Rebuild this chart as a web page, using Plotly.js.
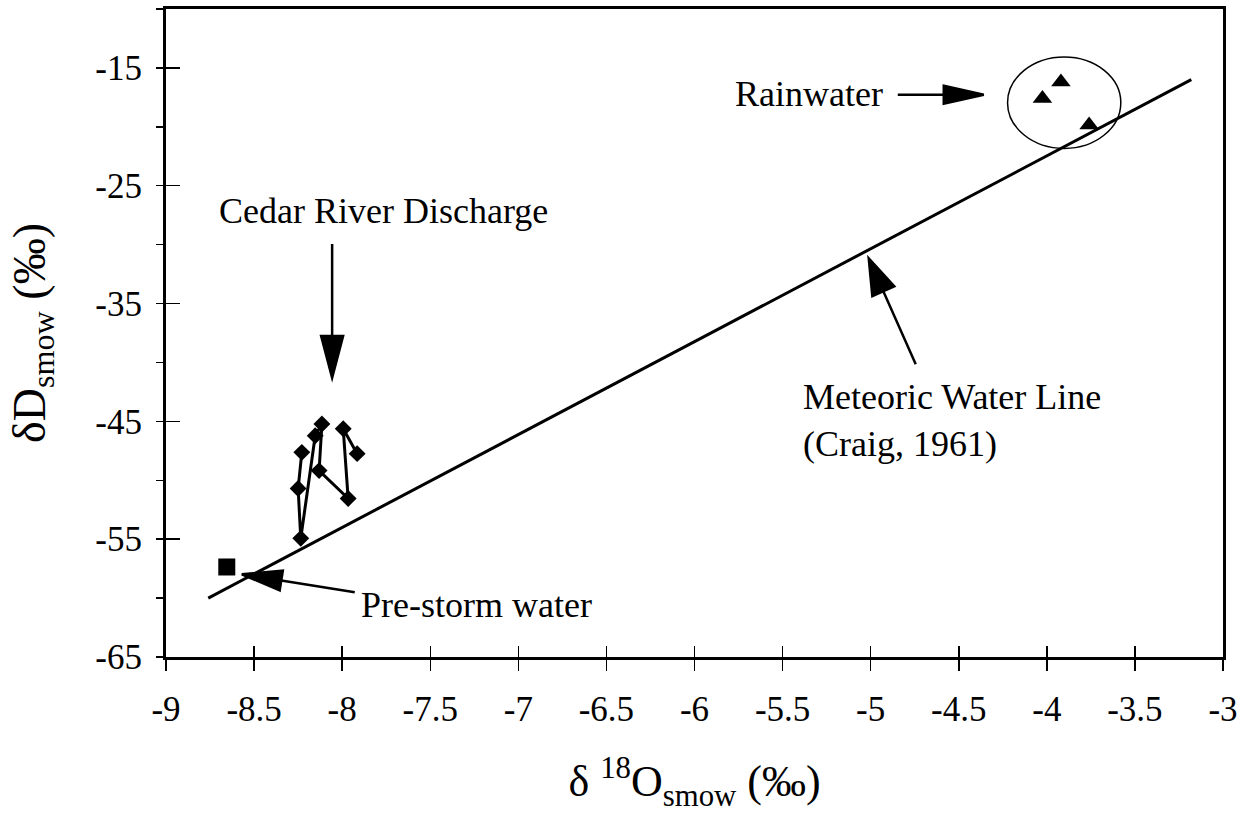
<!DOCTYPE html>
<html>
<head>
<meta charset="utf-8">
<script src="https://cdn.plot.ly/plotly-3.0.1.min.js"></script>
<style>html,body{margin:0;padding:0;background:#fff;}#chart{width:1248px;height:817px;}</style>
</head>
<body>
<div id="chart"></div>
<script>
// Cedar River discharge samples (δ18O, δD)
const dischargeO = [-8.229, -8.250, -8.235, -8.153, -8.115, -8.131, -7.966, -7.994, -7.915];
const dischargeD = [-47.63, -50.70, -54.93, -46.22, -45.23, -49.18, -51.55, -45.63, -47.74];
// Pre-storm water
const prestormO = [-8.655];
const prestormD = [-57.36];
// Rainwater
const rainO = [-4.025, -3.920, -3.760];
const rainD = [-17.6, -16.2, -19.85];
// Meteoric water line end points (Craig, 1961)
const mwlO = [-8.76, -3.18];
const mwlD = [-60.0, -16.0];
// Tick labels
const xTickVals = [-9, -8.5, -8, -7.5, -7, -6.5, -6, -5.5, -5, -4.5, -4, -3.5, -3];
const xTickText = ['-9', '-8.5', '-8', '-7.5', '-7', '-6.5', '-6', '-5.5', '-5', '-4.5', '-4', '-3.5', '-3'];
const yTickVals = [-65, -55, -45, -35, -25, -15];
const yTickText = ['-65', '-55', '-45', '-35', '-25', '-15'];
const yMinorVals = [-60, -50, -40, -30, -20, -10];

const FONT = 'Liberation Serif, Times New Roman, serif';
const xRange = [-9, -3];
const yRange = [-65, -10];

const traces = [
  {x: mwlO, y: mwlD, mode: 'lines', line: {color: '#000', width: 3}, hoverinfo: 'skip', showlegend: false},
  {x: dischargeO, y: dischargeD, mode: 'lines+markers', line: {color: '#000', width: 3},
   marker: {symbol: 'diamond', size: 13, color: '#000'}, showlegend: false},
  {x: prestormO, y: prestormD, mode: 'markers', marker: {symbol: 'square', size: 17, color: '#000'}, showlegend: false},
  {x: rainO, y: rainD, mode: 'markers', marker: {symbol: 'triangle-up', size: 17, color: '#000'}, showlegend: false},
  {x: [xRange[0]], y: [yRange[0]], xaxis: 'x2', yaxis: 'y2', mode: 'markers', marker: {opacity: 0}, showlegend: false, hoverinfo: 'skip'}
];

// arrow: head at data point, tail offset in screen pixels (dx right, dy down)
function arrow(hx, hy, dx, dy, len, hw) {
  const n = Math.hypot(dx, dy);
  const ux = -dx / n, uy = dy / n;          // direction tail->head, y up
  const bx = -ux * len, by = -uy * len;     // base centre
  const px = -uy * hw, py = ux * hw;
  const f = v => v.toFixed(2);
  const path = `M${f(dx)},${f(-dy)} L${f(bx)},${f(by)} M${f(bx + px)},${f(by + py)} L0,0 L${f(bx - px)},${f(by - py)} Z`;
  return {type: 'path', xref: 'x', yref: 'y', xsizemode: 'pixel', ysizemode: 'pixel',
          xanchor: hx, yanchor: hy, path: path, fillcolor: '#000', line: {color: '#000', width: 2.5}};
}

const shapes = [
  {type: 'circle', xref: 'x', yref: 'y', x0: -4.223, x1: -3.580, y0: -21.83, y1: -14.07,
   line: {color: '#000', width: 1.5}},
  arrow(-8.057, -41.31, 0, -134, 42, 11),
  arrow(-4.358, -17.28, -86, 0, 40, 9),
  arrow(-5.011, -31.16, 47, 106, 36, 12),
  arrow(-8.570, -57.98, 113, 18, 40, 10)
];

const tf = {family: FONT, size: 36, color: '#000'};
const annotations = [
  {x: -7.767, y: -27.18, text: 'Cedar River Discharge', showarrow: false, font: tf},
  {x: -5.352, y: -17.20, text: 'Rainwater', showarrow: false, font: tf},
  {x: -5.398, y: -44.95, xanchor: 'left', align: 'left', text: 'Meteoric Water Line<br>(Craig, 1961)', showarrow: false, font: tf},
  {x: -7.239, y: -60.6, text: 'Pre-storm water', showarrow: false, font: tf}
];

const layout = {
  width: 1248, height: 817,
  margin: {l: 166, r: 25, t: 9, b: 160},
  paper_bgcolor: '#fff', plot_bgcolor: '#fff',
  font: {family: FONT, color: '#000', size: 35},
  xaxis: {
    range: xRange, tickvals: xTickVals, ticktext: xTickText,
    ticks: 'outside', ticklen: 11, tickwidth: 1.5, tickcolor: '#000',
    ticklabelstandoff: 8,
    showline: true, linewidth: 3, linecolor: '#000', mirror: true,
    showgrid: false, zeroline: false, tickfont: {size: 35},
    title: {text: 'δ <sup>18</sup>O<sub>smow</sub> (‰)', font: {size: 44}, standoff: 38}
  },
  yaxis: {
    range: yRange, tickvals: yTickVals, ticktext: yTickText,
    ticks: 'outside', ticklen: 7, tickwidth: 1.5, tickcolor: '#000',
    ticklabelstandoff: 7,
    minor: {ticks: 'outside', ticklen: 7, tickvals: yMinorVals, tickcolor: '#000', tickwidth: 1.5},
    showline: true, linewidth: 3, linecolor: '#000', mirror: true,
    showgrid: false, zeroline: false, tickfont: {size: 35},
    title: {text: 'δD<sub>smow</sub> (‰)', font: {size: 46}, standoff: 36}
  },
  xaxis2: {
    overlaying: 'x', anchor: 'y', side: 'bottom', range: xRange, tickvals: xTickVals,
    ticks: 'inside', ticklen: 11, tickwidth: 1.5, tickcolor: '#000',
    showticklabels: false, showgrid: false, zeroline: false, showline: false
  },
  yaxis2: {
    overlaying: 'y', anchor: 'x', side: 'left', range: yRange, tickvals: yTickVals,
    ticks: 'inside', ticklen: 14, tickwidth: 1.5, tickcolor: '#000',
    showticklabels: false, showgrid: false, zeroline: false, showline: false
  },
  shapes: shapes,
  annotations: annotations,
  showlegend: false
};

Plotly.newPlot('chart', traces, layout, {staticPlot: true});
</script>
</body>
</html>
